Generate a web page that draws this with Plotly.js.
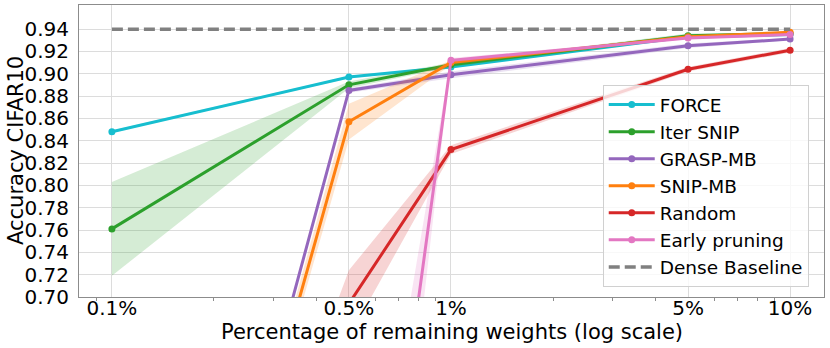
<!DOCTYPE html>
<html>
<head>
<meta charset="utf-8">
<script src="https://cdn.plot.ly/plotly-3.0.1.min.js"></script>
<style>
  body { margin: 0; background: #fff; }
  #chart { width: 830px; height: 348px; }
</style>
</head>
<body>
<div id="chart"></div>
<script>
// remaining weights (%) and tick labels
const weights = [0.1, 0.5, 1, 5, 10];
const tickText = ['0.1%', '0.5%', '1%', '5%', '10%'];
const minorTicks = [0.09, 0.2, 0.3, 0.4, 0.6, 0.7, 0.8, 0.9, 2, 3, 4, 6, 7, 8, 9];
const yTicks = [0.70, 0.72, 0.74, 0.76, 0.78, 0.80, 0.82, 0.84, 0.86, 0.88, 0.90, 0.92, 0.94];

// mean accuracy and std per method
const forceMean = [0.848, 0.897, 0.906, 0.933, 0.935];
const forceStd  = [0.001, 0.001, 0.001, 0.001, 0.001];
const iterSnipMean = [0.761, 0.890, 0.908, 0.934, 0.936];
const iterSnipStd  = [0.042, 0.003, 0.002, 0.002, 0.001];
const graspMean = [0.100, 0.885, 0.899, 0.925, 0.931];
const graspStd  = [0.000, 0.002, 0.003, 0.002, 0.001];
const snipMean = [0.100, 0.857, 0.910, 0.933, 0.937];
const snipStd  = [0.000, 0.016, 0.002, 0.001, 0.001];
const randomMean = [0.100, 0.694, 0.832, 0.904, 0.921];
const randomStd  = [0.050, 0.030, 0.004, 0.002, 0.002];
const earlyMean = [0.100, 0.240, 0.912, 0.932, 0.935];
const earlyStd  = [0.000, 0.130, 0.002, 0.001, 0.001];
const denseBaseline = 0.9397;

const series = [
  { name: 'FORCE', mean: forceMean, std: forceStd, color: '#17becf', rgb: '23,190,207' },
  { name: 'Iter SNIP', mean: iterSnipMean, std: iterSnipStd, color: '#2ca02c', rgb: '44,160,44' },
  { name: 'GRASP-MB', mean: graspMean, std: graspStd, color: '#9467bd', rgb: '148,103,189' },
  { name: 'SNIP-MB', mean: snipMean, std: snipStd, color: '#ff7f0e', rgb: '255,127,14' },
  { name: 'Random', mean: randomMean, std: randomStd, color: '#d62728', rgb: '214,39,40' },
  { name: 'Early pruning', mean: earlyMean, std: earlyStd, color: '#e377c2', rgb: '227,119,194' }
];

const data = [];
series.forEach(function (s, i) {
  const lower = s.mean.map((m, k) => m - s.std[k]);
  const upper = s.mean.map((m, k) => m + s.std[k]);
  data.push({
    x: weights, y: lower, mode: 'lines', line: { width: 0, color: s.color },
    showlegend: false, hoverinfo: 'skip'
  });
  data.push({
    x: weights, y: upper, mode: 'lines', line: { width: 0, color: s.color },
    fill: 'tonexty', fillcolor: 'rgba(' + s.rgb + ',0.2)',
    showlegend: false, hoverinfo: 'skip'
  });
  data.push({
    x: weights, y: s.mean, name: s.name, mode: 'lines+markers',
    line: { color: s.color, width: 3 },
    marker: { color: s.color, size: 7 },
    legendgroup: 'g' + i
  });
});

data.push({
  x: [weights[0], weights[weights.length - 1]],
  y: [denseBaseline, denseBaseline],
  name: 'Dense Baseline', mode: 'lines',
  line: { color: '#808080', width: 3.5, dash: '11px,5px' },
  legendgroup: 'g9'
});

const font = { family: 'DejaVu Sans', size: 20, color: '#000' };
const titleFont = { family: 'DejaVu Sans', size: 21, color: '#000' };

const layout = {
  width: 830,
  height: 348,
  margin: { l: 79, r: 6, t: 5, b: 51 },
  paper_bgcolor: '#fff',
  plot_bgcolor: '#fff',
  font: font,
  showlegend: true,
  xaxis: {
    type: 'log',
    automargin: false,
    range: [-1.097, 1.100],
    tickmode: 'array',
    tickvals: weights,
    ticktext: tickText,
    ticks: 'outside',
    ticklen: 3,
    tickcolor: 'rgba(0,0,0,0)',
    ticklabelstandoff: -10,
    tickfont: font,
    showgrid: true,
    gridcolor: '#dcdcdc',
    gridwidth: 1,
    showline: true,
    mirror: true,
    linecolor: '#8c8c8c',
    linewidth: 1,
    zeroline: false,
    minor: {
      tickmode: 'array',
      tickvals: minorTicks,
      ticks: 'outside',
      ticklen: 3,
      tickcolor: '#8c8c8c',
      showgrid: false
    }
  },
  yaxis: {
    automargin: false,
    range: [0.70, 0.9615],
    tickmode: 'array',
    tickvals: yTicks,
    ticktext: yTicks.map(v => v.toFixed(2)),
    ticks: 'outside',
    ticklen: 5,
    tickcolor: 'rgba(0,0,0,0)',
    tickfont: font,
    showgrid: true,
    gridcolor: '#dcdcdc',
    gridwidth: 1,
    showline: true,
    mirror: true,
    linecolor: '#8c8c8c',
    linewidth: 1,
    zeroline: false
  },
  annotations: [
    {
      text: 'Percentage of remaining weights (log scale)',
      xref: 'paper', yref: 'paper', x: 0.5, y: 0,
      xanchor: 'center', yanchor: 'middle', yshift: -35,
      showarrow: false, font: titleFont
    },
    {
      text: 'Accuracy CIFAR10',
      xref: 'paper', yref: 'paper', x: 0, y: 0.5,
      xanchor: 'center', yanchor: 'middle', xshift: -63, textangle: -90,
      showarrow: false, font: titleFont
    }
  ],
  legend: {
    x: 0.703,
    y: 0.034,
    xanchor: 'left',
    yanchor: 'bottom',
    bgcolor: 'rgba(255,255,255,0.8)',
    bordercolor: '#d0d0d0',
    borderwidth: 1,
    font: { family: 'DejaVu Sans', size: 18.5, color: '#000' },
    itemwidth: 46,
    traceorder: 'grouped',
    tracegroupgap: 0
  }
};

Plotly.newPlot('chart', data, layout, { displayModeBar: false, staticPlot: true });
</script>
</body>
</html>
